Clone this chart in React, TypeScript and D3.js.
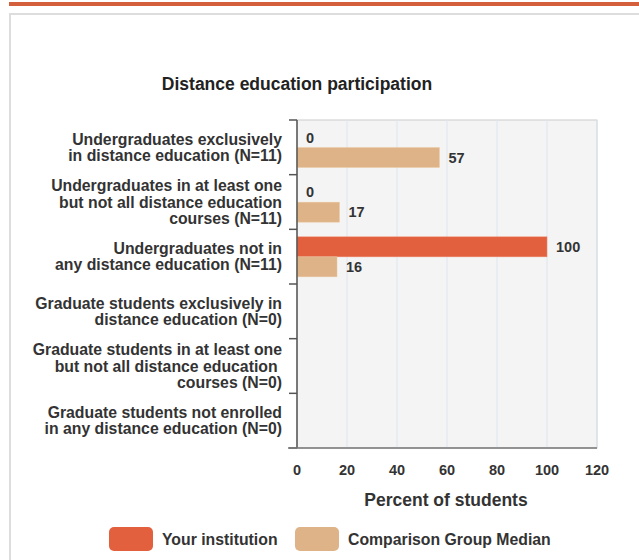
import React from 'react';
import * as d3 from 'd3';

const categories = [
  ['Undergraduates exclusively', 'in distance education (N=11)'],
  ['Undergraduates in at least one', 'but not all distance education', 'courses (N=11)'],
  ['Undergraduates not in', 'any distance education (N=11)'],
  ['Graduate students exclusively in', 'distance education (N=0)'],
  ['Graduate students in at least one', 'but not all distance education ', 'courses (N=0)'],
  ['Graduate students not enrolled', 'in any distance education (N=0)'],
];
const institution: (number | null)[] = [0, 0, 100, null, null, null];
const comparison: (number | null)[] = [57, 17, 16, null, null, null];
const xTicks = [0, 20, 40, 60, 80, 100, 120];

const RED = '#e2603e';
const TAN = '#deb387';
const FONT = '"Liberation Sans", Arial, sans-serif';

export default function App() {
  const width = 639;
  const height = 560;
  const left = 297;
  const right = 597;
  const top = 120;
  const bottom = 448;

  const x = d3.scaleLinear().domain([0, 120]).range([left, right]);
  const y = d3
    .scaleBand<number>()
    .domain(d3.range(categories.length))
    .range([top, bottom]);
  const barH = 20;

  return (
    <svg
      width={width}
      height={height}
      style={{ position: 'absolute', left: 0, top: 0, fontFamily: FONT }}
    >
      <rect x={0} y={0} width={width} height={height} fill="#fff" />
      <rect x={9} y={2} width={width - 9} height={4} fill="#d35f3c" />
      <rect x={10} y={14} width={width} height={height} fill="#fff" stroke="#ddd" strokeWidth={2} />

      <text x={297} y={84} dy="0.35em" textAnchor="middle" fontSize={17.5} fontWeight="bold" fill="#222">
        Distance education participation
      </text>

      <rect x={left} y={top} width={right - left} height={bottom - top} fill="#f4f4f4" stroke="#ccc" />
      {xTicks.slice(1).map((t) => (
        <line key={t} x1={x(t)} x2={x(t)} y1={top} y2={bottom} stroke="#dde6f0" strokeWidth={1} />
      ))}

      {categories.map((lines, i) => {
        const y0 = y(i)!;
        const cy = y0 + y.bandwidth() / 2;
        const lh = 16.5;
        const startY = cy - ((lines.length - 1) * lh) / 2;
        const inst = institution[i];
        const comp = comparison[i];
        const barTop = y0 + 7.5;
        return (
          <g key={i}>
            <line x1={left - 8} x2={left} y1={y0} y2={y0} stroke="#555" strokeWidth={1.5} />
            {lines.map((l, j) => (
              <text
                key={j}
                x={282}
                y={startY + j * lh}
                dy="0.35em"
                textAnchor="end"
                fontSize={15.8}
                fontWeight="bold"
                fill="#333"
                style={{ whiteSpace: 'pre' }}
              >
                {l}
              </text>
            ))}
            {inst !== null && (
              <g>
                {inst > 0 && (
                  <rect x={x(0)} y={barTop} width={x(inst) - x(0)} height={barH} fill={RED} stroke="#f08a6e" strokeWidth={0.5} />
                )}
                <text x={x(inst) + 9} y={barTop + barH / 2} dy="0.35em" fontSize={14.5} fontWeight="bold" fill="#333">
                  {inst}
                </text>
              </g>
            )}
            {comp !== null && (
              <g>
                <rect x={x(0)} y={barTop + barH} width={x(comp) - x(0)} height={barH} fill={TAN} stroke="#ebc9a5" strokeWidth={0.5} />
                <text x={x(comp) + 9} y={barTop + barH + barH / 2} dy="0.35em" fontSize={14.5} fontWeight="bold" fill="#333">
                  {comp}
                </text>
              </g>
            )}
          </g>
        );
      })}
      <line x1={left - 8} x2={left} y1={bottom} y2={bottom} stroke="#555" strokeWidth={1.5} />
      <line x1={left} x2={left} y1={top} y2={bottom} stroke="#555" strokeWidth={1.5} />
      <line x1={288} x2={right} y1={bottom} y2={bottom} stroke="#777" strokeWidth={1.5} />

      {xTicks.map((t) => (
        <text key={t} x={x(t)} y={470} dy="0.35em" textAnchor="middle" fontSize={14.5} fontWeight="bold" fill="#333">
          {t}
        </text>
      ))}
      <text x={446} y={500} dy="0.35em" textAnchor="middle" fontSize={17.5} fontWeight="bold" fill="#333">
        Percent of students
      </text>

      <rect x={109} y={527} width={44} height={24} rx={5} fill={RED} />
      <text x={162} y={539} dy="0.35em" fontSize={15.8} fontWeight="bold" fill="#333">
        Your institution
      </text>
      <rect x={295} y={527} width={44} height={24} rx={5} fill={TAN} />
      <text x={348} y={539} dy="0.35em" fontSize={15.8} fontWeight="bold" fill="#333">
        Comparison Group Median
      </text>
    </svg>
  );
}
